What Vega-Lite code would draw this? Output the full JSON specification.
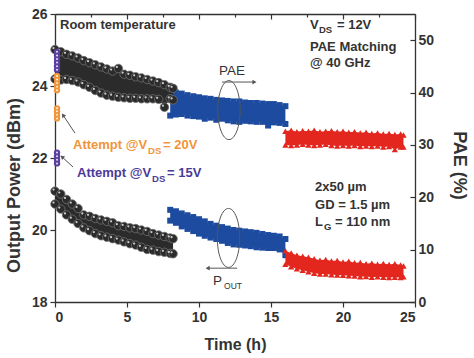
{
"$schema": "https://vega.github.io/schema/vega-lite/v6.json",
"width": 360,
"height": 288,
"autosize": "none",
"padding": {"left": 55, "top": 14, "right": 59, "bottom": 56},
"background": "white",
"config": {
  "view": {"stroke": null},
  "font": "Liberation Sans",
  "axis": {"grid": false, "domainColor": "#333333", "domainWidth": 1.3, "tickColor": "#333333", "tickWidth": 1.2, "labelFont": "Liberation Sans", "labelFontSize": 14, "labelFontWeight": "bold", "labelColor": "#333333", "titleFont": "Liberation Sans", "titleFontWeight": "bold", "titleColor": "#333333"}
},
"datasets": {
  "pae": [
    {"s":"bl","t":8.0,"v":35.6},{"s":"bl","t":8.0,"v":40.2},
    {"s":"bl","t":8.4,"v":35.8},{"s":"bl","t":8.4,"v":40.0},
    {"s":"bl","t":8.8,"v":35.9},{"s":"bl","t":8.8,"v":39.8},
    {"s":"bl","t":9.2,"v":35.6},{"s":"bl","t":9.2,"v":39.5},
    {"s":"bl","t":9.6,"v":35.5},{"s":"bl","t":9.6,"v":39.3},
    {"s":"bl","t":10.0,"v":35.4},{"s":"bl","t":10.0,"v":39.1},
    {"s":"bl","t":10.4,"v":35.0},{"s":"bl","t":10.4,"v":38.9},
    {"s":"bl","t":10.8,"v":35.2},{"s":"bl","t":10.8,"v":38.8},
    {"s":"bl","t":11.2,"v":34.8},{"s":"bl","t":11.2,"v":38.6},
    {"s":"bl","t":11.6,"v":35.0},{"s":"bl","t":11.6,"v":38.5},
    {"s":"bl","t":12.0,"v":34.7},{"s":"bl","t":12.0,"v":38.4},
    {"s":"bl","t":12.4,"v":34.5},{"s":"bl","t":12.4,"v":38.3},
    {"s":"bl","t":12.8,"v":34.4},{"s":"bl","t":12.8,"v":38.3},
    {"s":"bl","t":13.2,"v":34.6},{"s":"bl","t":13.2,"v":38.1},
    {"s":"bl","t":13.6,"v":34.5},{"s":"bl","t":13.6,"v":38.0},
    {"s":"bl","t":14.0,"v":34.4},{"s":"bl","t":14.0,"v":38.0},
    {"s":"bl","t":14.4,"v":34.4},{"s":"bl","t":14.4,"v":37.9},
    {"s":"bl","t":14.8,"v":33.7},{"s":"bl","t":14.8,"v":37.8},
    {"s":"bl","t":15.2,"v":34.3},{"s":"bl","t":15.2,"v":37.8},
    {"s":"bl","t":15.6,"v":34.2},{"s":"bl","t":15.6,"v":37.6},
    {"s":"bl","t":16.0,"v":34.0},{"s":"bl","t":16.0,"v":37.4},
    {"s":"rd","t":16.0,"v":30.0},{"s":"rd","t":16.0,"v":32.6},
    {"s":"rd","t":16.4,"v":29.9},{"s":"rd","t":16.4,"v":32.8},
    {"s":"rd","t":16.8,"v":30.0},{"s":"rd","t":16.8,"v":32.5},
    {"s":"rd","t":17.2,"v":30.1},{"s":"rd","t":17.2,"v":32.7},
    {"s":"rd","t":17.6,"v":30.0},{"s":"rd","t":17.6,"v":32.6},
    {"s":"rd","t":18.0,"v":29.9},{"s":"rd","t":18.0,"v":32.8},
    {"s":"rd","t":18.4,"v":30.0},{"s":"rd","t":18.4,"v":32.5},
    {"s":"rd","t":18.8,"v":30.1},{"s":"rd","t":18.8,"v":32.6},
    {"s":"rd","t":19.2,"v":29.9},{"s":"rd","t":19.2,"v":32.7},
    {"s":"rd","t":19.6,"v":29.8},{"s":"rd","t":19.6,"v":32.5},
    {"s":"rd","t":20.0,"v":29.9},{"s":"rd","t":20.0,"v":32.6},
    {"s":"rd","t":20.4,"v":29.8},{"s":"rd","t":20.4,"v":32.4},
    {"s":"rd","t":20.8,"v":29.9},{"s":"rd","t":20.8,"v":32.5},
    {"s":"rd","t":21.2,"v":29.7},{"s":"rd","t":21.2,"v":32.3},
    {"s":"rd","t":21.6,"v":29.8},{"s":"rd","t":21.6,"v":32.4},
    {"s":"rd","t":22.0,"v":29.7},{"s":"rd","t":22.0,"v":32.2},
    {"s":"rd","t":22.4,"v":29.8},{"s":"rd","t":22.4,"v":32.3},
    {"s":"rd","t":22.8,"v":29.6},{"s":"rd","t":22.8,"v":32.1},
    {"s":"rd","t":23.2,"v":29.7},{"s":"rd","t":23.2,"v":32.2},
    {"s":"rd","t":23.6,"v":29.1},{"s":"rd","t":23.6,"v":32.0},
    {"s":"rd","t":24.0,"v":29.6},{"s":"rd","t":24.0,"v":32.1},
    {"s":"rd","t":24.2,"v":29.6},{"s":"rd","t":24.2,"v":31.9},
    {"s":"bk","t":0.0,"v":42.6},{"s":"bk","t":0.0,"v":48.2},
    {"s":"bk","t":0.4,"v":42.4},{"s":"bk","t":0.4,"v":47.8},
    {"s":"bk","t":0.8,"v":42.5},{"s":"bk","t":0.8,"v":47.3},
    {"s":"bk","t":1.2,"v":42.3},{"s":"bk","t":1.2,"v":47.0},
    {"s":"bk","t":1.6,"v":42.0},{"s":"bk","t":1.6,"v":46.6},
    {"s":"bk","t":2.0,"v":41.5},{"s":"bk","t":2.0,"v":46.1},
    {"s":"bk","t":2.4,"v":41.0},{"s":"bk","t":2.4,"v":45.7},
    {"s":"bk","t":2.8,"v":40.4},{"s":"bk","t":2.8,"v":45.3},
    {"s":"bk","t":3.2,"v":39.9},{"s":"bk","t":3.2,"v":44.9},
    {"s":"bk","t":3.6,"v":39.5},{"s":"bk","t":3.6,"v":44.5},
    {"s":"bk","t":4.0,"v":39.3},{"s":"bk","t":4.0,"v":44.1},
    {"s":"bk","t":4.4,"v":39.1},{"s":"bk","t":4.4,"v":44.6},
    {"s":"bk","t":4.8,"v":39.0},{"s":"bk","t":4.8,"v":43.5},
    {"s":"bk","t":5.2,"v":38.9},{"s":"bk","t":5.2,"v":43.3},
    {"s":"bk","t":5.6,"v":38.9},{"s":"bk","t":5.6,"v":43.0},
    {"s":"bk","t":6.0,"v":38.8},{"s":"bk","t":6.0,"v":42.8},
    {"s":"bk","t":6.4,"v":38.8},{"s":"bk","t":6.4,"v":42.5},
    {"s":"bk","t":6.8,"v":38.8},{"s":"bk","t":6.8,"v":42.2},
    {"s":"bk","t":7.2,"v":38.7},{"s":"bk","t":7.2,"v":41.9},
    {"s":"bk","t":7.6,"v":37.2},{"s":"bk","t":7.6,"v":41.5},
    {"s":"bk","t":8.0,"v":38.8},{"s":"bk","t":8.0,"v":41.0},
    {"s":"bk","t":8.2,"v":38.6},{"s":"bk","t":8.2,"v":40.8}
  ],
  "pout": [
    {"s":"bl","t":8.0,"v":20.26},{"s":"bl","t":8.0,"v":20.56},
    {"s":"bl","t":8.4,"v":20.2},{"s":"bl","t":8.4,"v":20.52},
    {"s":"bl","t":8.8,"v":20.1},{"s":"bl","t":8.8,"v":20.46},
    {"s":"bl","t":9.2,"v":20.03},{"s":"bl","t":9.2,"v":20.41},
    {"s":"bl","t":9.6,"v":19.97},{"s":"bl","t":9.6,"v":20.36},
    {"s":"bl","t":10.0,"v":19.9},{"s":"bl","t":10.0,"v":20.3},
    {"s":"bl","t":10.4,"v":19.84},{"s":"bl","t":10.4,"v":20.24},
    {"s":"bl","t":10.8,"v":19.79},{"s":"bl","t":10.8,"v":20.17},
    {"s":"bl","t":11.2,"v":19.75},{"s":"bl","t":11.2,"v":20.12},
    {"s":"bl","t":11.6,"v":19.7},{"s":"bl","t":11.6,"v":20.08},
    {"s":"bl","t":12.0,"v":19.64},{"s":"bl","t":12.0,"v":20.04},
    {"s":"bl","t":12.4,"v":19.6},{"s":"bl","t":12.4,"v":20.0},
    {"s":"bl","t":12.8,"v":19.59},{"s":"bl","t":12.8,"v":19.98},
    {"s":"bl","t":13.2,"v":19.57},{"s":"bl","t":13.2,"v":19.96},
    {"s":"bl","t":13.6,"v":19.55},{"s":"bl","t":13.6,"v":19.94},
    {"s":"bl","t":14.0,"v":19.52},{"s":"bl","t":14.0,"v":19.92},
    {"s":"bl","t":14.4,"v":19.51},{"s":"bl","t":14.4,"v":19.89},
    {"s":"bl","t":14.8,"v":19.5},{"s":"bl","t":14.8,"v":19.86},
    {"s":"bl","t":15.2,"v":19.5},{"s":"bl","t":15.2,"v":19.84},
    {"s":"bl","t":15.6,"v":19.46},{"s":"bl","t":15.6,"v":19.82},
    {"s":"bl","t":16.0,"v":19.3},{"s":"bl","t":16.0,"v":19.75},
    {"s":"rd","t":16.0,"v":19.05},{"s":"rd","t":16.0,"v":19.42},
    {"s":"rd","t":16.4,"v":18.98},{"s":"rd","t":16.4,"v":19.36},
    {"s":"rd","t":16.8,"v":18.92},{"s":"rd","t":16.8,"v":19.3},
    {"s":"rd","t":17.2,"v":18.88},{"s":"rd","t":17.2,"v":19.27},
    {"s":"rd","t":17.6,"v":18.84},{"s":"rd","t":17.6,"v":19.24},
    {"s":"rd","t":18.0,"v":18.8},{"s":"rd","t":18.0,"v":19.2},
    {"s":"rd","t":18.4,"v":18.78},{"s":"rd","t":18.4,"v":19.16},
    {"s":"rd","t":18.8,"v":18.78},{"s":"rd","t":18.8,"v":19.18},
    {"s":"rd","t":19.2,"v":18.76},{"s":"rd","t":19.2,"v":19.14},
    {"s":"rd","t":19.6,"v":18.75},{"s":"rd","t":19.6,"v":19.15},
    {"s":"rd","t":20.0,"v":18.74},{"s":"rd","t":20.0,"v":19.11},
    {"s":"rd","t":20.4,"v":18.73},{"s":"rd","t":20.4,"v":19.13},
    {"s":"rd","t":20.8,"v":18.72},{"s":"rd","t":20.8,"v":19.09},
    {"s":"rd","t":21.2,"v":18.7},{"s":"rd","t":21.2,"v":19.1},
    {"s":"rd","t":21.6,"v":18.71},{"s":"rd","t":21.6,"v":19.06},
    {"s":"rd","t":22.0,"v":18.69},{"s":"rd","t":22.0,"v":19.08},
    {"s":"rd","t":22.4,"v":18.7},{"s":"rd","t":22.4,"v":19.05},
    {"s":"rd","t":22.8,"v":18.69},{"s":"rd","t":22.8,"v":19.07},
    {"s":"rd","t":23.2,"v":18.68},{"s":"rd","t":23.2,"v":19.04},
    {"s":"rd","t":23.6,"v":18.69},{"s":"rd","t":23.6,"v":19.06},
    {"s":"rd","t":24.0,"v":18.68},{"s":"rd","t":24.0,"v":19.03},
    {"s":"rd","t":24.2,"v":18.7},{"s":"rd","t":24.2,"v":19.0},
    {"s":"bk","t":0.0,"v":20.72},{"s":"bk","t":0.0,"v":21.08},
    {"s":"bk","t":0.4,"v":20.58},{"s":"bk","t":0.4,"v":21.0},
    {"s":"bk","t":0.8,"v":20.42},{"s":"bk","t":0.8,"v":20.85},
    {"s":"bk","t":1.2,"v":20.3},{"s":"bk","t":1.2,"v":20.72},
    {"s":"bk","t":1.6,"v":20.18},{"s":"bk","t":1.6,"v":20.6},
    {"s":"bk","t":2.0,"v":20.06},{"s":"bk","t":2.0,"v":20.42},
    {"s":"bk","t":2.4,"v":19.98},{"s":"bk","t":2.4,"v":20.38},
    {"s":"bk","t":2.8,"v":19.9},{"s":"bk","t":2.8,"v":20.32},
    {"s":"bk","t":3.2,"v":19.84},{"s":"bk","t":3.2,"v":20.28},
    {"s":"bk","t":3.6,"v":19.8},{"s":"bk","t":3.6,"v":20.24},
    {"s":"bk","t":4.0,"v":19.76},{"s":"bk","t":4.0,"v":20.2},
    {"s":"bk","t":4.4,"v":19.72},{"s":"bk","t":4.4,"v":20.12},
    {"s":"bk","t":4.8,"v":19.67},{"s":"bk","t":4.8,"v":20.1},
    {"s":"bk","t":5.2,"v":19.62},{"s":"bk","t":5.2,"v":20.06},
    {"s":"bk","t":5.6,"v":19.58},{"s":"bk","t":5.6,"v":20.04},
    {"s":"bk","t":6.0,"v":19.52},{"s":"bk","t":6.0,"v":20.0},
    {"s":"bk","t":6.4,"v":19.46},{"s":"bk","t":6.4,"v":19.96},
    {"s":"bk","t":6.8,"v":19.44},{"s":"bk","t":6.8,"v":19.9},
    {"s":"bk","t":7.2,"v":19.4},{"s":"bk","t":7.2,"v":19.86},
    {"s":"bk","t":7.6,"v":19.38},{"s":"bk","t":7.6,"v":19.82},
    {"s":"bk","t":8.0,"v":19.35},{"s":"bk","t":8.0,"v":19.78},
    {"s":"bk","t":8.2,"v":19.34},{"s":"bk","t":8.2,"v":19.76}
  ],
  "att": [
    {"g":"orange","t":0.14,"v":23.1},{"g":"orange","t":0.14,"v":23.2},{"g":"orange","t":0.14,"v":23.3},{"g":"orange","t":0.14,"v":23.38},
    {"g":"orange","t":0.14,"v":23.88},{"g":"orange","t":0.14,"v":23.98},{"g":"orange","t":0.14,"v":24.08},{"g":"orange","t":0.14,"v":24.18},{"g":"orange","t":0.14,"v":24.28},
    {"g":"purple","t":0.14,"v":24.45},{"g":"purple","t":0.14,"v":24.55},{"g":"purple","t":0.14,"v":24.65},{"g":"purple","t":0.14,"v":24.75},{"g":"purple","t":0.14,"v":24.85},{"g":"purple","t":0.14,"v":24.95},
    {"g":"purple","t":0.14,"v":21.85},{"g":"purple","t":0.14,"v":21.95},{"g":"purple","t":0.14,"v":22.05},{"g":"purple","t":0.14,"v":22.15}
  ],
  "arr": [
    {"t1":11.6,"v1":24.11,"t2":13.85,"v2":24.11,"a":90},
    {"t1":12.65,"v1":18.94,"t2":10.6,"v2":18.94,"a":-90},
    {"t1":1.39,"v1":22.69,"t2":0.56,"v2":23.19,"a":-34},
    {"t1":1.25,"v1":21.75,"t2":0.49,"v2":22.03,"a":-48}
  ],
  "ell": [
    {"t":12.08,"v":23.33},
    {"t":12.05,"v":19.78}
  ],
  "ann": [
    {"g":"note","r":"m","t":0.35,"v":25.69,"txt":"Room temperature"},
    {"g":"note","r":"m","t":17.71,"v":25.69,"txt":"V"},
    {"g":"note","r":"s","t":18.33,"v":25.55,"txt":"DS"},
    {"g":"note","r":"m","t":19.58,"v":25.69,"txt":"= 12V"},
    {"g":"note","r":"m","t":17.71,"v":25.08,"txt":"PAE Matching"},
    {"g":"note","r":"m","t":17.71,"v":24.64,"txt":"@ 40 GHz"},
    {"g":"note","r":"m","t":18.06,"v":21.19,"txt":"2x50 µm"},
    {"g":"note","r":"m","t":18.06,"v":20.69,"txt":"GD = 1.5 µm"},
    {"g":"note","r":"m","t":18.06,"v":20.22,"txt":"L"},
    {"g":"note","r":"s","t":18.68,"v":20.08,"txt":"G"},
    {"g":"note","r":"m","t":19.44,"v":20.22,"txt":"= 110 nm"},
    {"g":"orange","r":"m","t":1.25,"v":22.36,"txt":"Attempt @V"},
    {"g":"orange","r":"s","t":6.46,"v":22.19,"txt":"DS"},
    {"g":"orange","r":"m","t":7.5,"v":22.36,"txt":"= 20V"},
    {"g":"purple","r":"m","t":1.53,"v":21.58,"txt":"Attempt @V"},
    {"g":"purple","r":"s","t":6.74,"v":21.42,"txt":"DS"},
    {"g":"purple","r":"m","t":7.78,"v":21.58,"txt":"= 15V"},
    {"g":"arrow","r":"m","t":11.39,"v":24.42,"txt":"PAE"},
    {"g":"arrow","r":"m","t":10.97,"v":18.58,"txt":"P"},
    {"g":"arrow","r":"s","t":11.74,"v":18.44,"txt":"OUT"}
  ],
  "one": [{"t":0}]
},
"layer": [
  {
    "data": {"name": "pae"},
    "layer": [
      {"transform":[{"filter":"datum.s === 'bl'"}],"mark":{"type":"area","color":"#1d4b9f"},
       "encoding":{"x":{"field":"t","type":"quantitative","scale":{"domain":[0,25],"nice":false,"zero":false},"axis":null},
                   "y":{"aggregate":"min","field":"v","type":"quantitative","scale":{"domain":[0,55],"nice":false,"zero":false},
                        "axis":{"orient":"right","values":[0,5,10,15,20,25,30,35,40,45,50],"labelExpr":"datum.value % 10 === 0 ? format(datum.value,'d') : ''","tickSize":{"condition":{"test":"datum.value % 10 !== 0","value":-3},"value":-5},"labelPadding":8,"title":"PAE (%)","titleFontSize":18,"titleAngle":90,"titleBaseline":"middle","titleX":43,"titleY":151}},
                   "y2":{"aggregate":"max","field":"v"}}},
      {"transform":[{"filter":"datum.s === 'bl'"}],"mark":{"type":"point","shape":"square","filled":true,"size":36,"color":"#1d4b9f","opacity":1},
       "encoding":{"x":{"field":"t","type":"quantitative","axis":null},"y":{"field":"v","type":"quantitative"}}},
      {"transform":[{"filter":"datum.s === 'rd'"}],"mark":{"type":"area","color":"#e3271f"},
       "encoding":{"x":{"field":"t","type":"quantitative","axis":null},"y":{"aggregate":"min","field":"v","type":"quantitative"},"y2":{"aggregate":"max","field":"v"}}},
      {"transform":[{"filter":"datum.s === 'rd'"}],"mark":{"type":"point","shape":"triangle-up","filled":true,"size":40,"color":"#e3271f","opacity":1},
       "encoding":{"x":{"field":"t","type":"quantitative","axis":null},"y":{"field":"v","type":"quantitative"}}},
      {"transform":[{"filter":"datum.s === 'bk'"}],"mark":{"type":"area","color":"#2b2b2b"},
       "encoding":{"x":{"field":"t","type":"quantitative","axis":null},"y":{"aggregate":"min","field":"v","type":"quantitative"},"y2":{"aggregate":"max","field":"v"}}},
      {"transform":[{"filter":"datum.s === 'bk'"}],"mark":{"type":"point","shape":"circle","filled":true,"size":72,"fill":"#2b2b2b","stroke":"#707070","strokeWidth":0.8,"opacity":1},
       "encoding":{"x":{"field":"t","type":"quantitative","axis":null},"y":{"field":"v","type":"quantitative"}}},
      {"transform":[{"filter":"datum.s === 'bk'"}],"mark":{"type":"point","shape":"circle","filled":true,"size":5,"color":"#dddddd","opacity":0.9,"xOffset":-1.5,"yOffset":-1.5},
       "encoding":{"x":{"field":"t","type":"quantitative","axis":null},"y":{"field":"v","type":"quantitative"}}}
    ]
  },
  {
    "data": {"name": "pout"},
    "resolve": {"scale": {"color": "independent"}},
    "layer": [
      {"transform":[{"filter":"datum.s === 'bl'"}],"mark":{"type":"area","color":"#1d4b9f"},
       "encoding":{"x":{"field":"t","type":"quantitative","scale":{"domain":[0,25],"nice":false,"zero":false},
                        "axis":{"orient":"bottom","values":[0,2.5,5,7.5,10,12.5,15,17.5,20,22.5,25],"labelExpr":"datum.value % 5 === 0 ? format(datum.value,'d') : ''","tickSize":{"condition":{"test":"datum.value % 5 !== 0","value":3},"value":5},"labelPadding":3,"title":"Time (h)","titleFontSize":16,"titlePadding":12}},
                   "y":{"aggregate":"min","field":"v","type":"quantitative","scale":{"domain":[18,26],"nice":false,"zero":false},
                        "axis":{"orient":"left","values":[18,19,20,21,22,23,24,25,26],"labelExpr":"datum.value % 2 === 0 ? format(datum.value,'d') : ''","tickSize":{"condition":{"test":"datum.value % 2 !== 0","value":3},"value":5},"labelPadding":3,"title":"Output Power (dBm)","titleFontSize":18,"titleAngle":-90,"titleBaseline":"middle","titleX":-41,"titleY":171}},
                   "y2":{"aggregate":"max","field":"v"}}},
      {"transform":[{"filter":"datum.s === 'bl'"}],"mark":{"type":"point","shape":"square","filled":true,"size":36,"color":"#1d4b9f","opacity":1},
       "encoding":{"x":{"field":"t","type":"quantitative"},"y":{"field":"v","type":"quantitative"}}},
      {"transform":[{"filter":"datum.s === 'rd'"}],"mark":{"type":"area","color":"#e3271f"},
       "encoding":{"x":{"field":"t","type":"quantitative"},"y":{"aggregate":"min","field":"v","type":"quantitative"},"y2":{"aggregate":"max","field":"v"}}},
      {"transform":[{"filter":"datum.s === 'rd'"}],"mark":{"type":"point","shape":"triangle-up","filled":true,"size":40,"color":"#e3271f","opacity":1},
       "encoding":{"x":{"field":"t","type":"quantitative"},"y":{"field":"v","type":"quantitative"}}},
      {"transform":[{"filter":"datum.s === 'bk'"}],"mark":{"type":"area","color":"#2b2b2b"},
       "encoding":{"x":{"field":"t","type":"quantitative"},"y":{"aggregate":"min","field":"v","type":"quantitative"},"y2":{"aggregate":"max","field":"v"}}},
      {"transform":[{"filter":"datum.s === 'bk'"}],"mark":{"type":"point","shape":"circle","filled":true,"size":72,"fill":"#2b2b2b","stroke":"#707070","strokeWidth":0.8,"opacity":1},
       "encoding":{"x":{"field":"t","type":"quantitative"},"y":{"field":"v","type":"quantitative"}}},
      {"transform":[{"filter":"datum.s === 'bk'"}],"mark":{"type":"point","shape":"circle","filled":true,"size":5,"color":"#dddddd","opacity":0.9,"xOffset":-1.5,"yOffset":-1.5},
       "encoding":{"x":{"field":"t","type":"quantitative"},"y":{"field":"v","type":"quantitative"}}},
      {"data":{"name":"att"},"mark":{"type":"point","shape":"circle","filled":true,"size":40,"opacity":1},
       "encoding":{"x":{"field":"t","type":"quantitative"},"y":{"field":"v","type":"quantitative"},
                   "color":{"field":"g","type":"nominal","scale":{"domain":["orange","purple"],"range":["#f0953a","#5a3fa0"]},"legend":null}}},
      {"data":{"name":"att"},"mark":{"type":"point","shape":"circle","filled":true,"size":4,"color":"#ffffff","opacity":0.85},
       "encoding":{"x":{"field":"t","type":"quantitative"},"y":{"field":"v","type":"quantitative"}}},
      {"data":{"name":"arr"},"mark":{"type":"rule","color":"#555555","strokeWidth":1},
       "encoding":{"x":{"field":"t1","type":"quantitative"},"x2":{"field":"t2"},"y":{"field":"v1","type":"quantitative"},"y2":{"field":"v2"}}},
      {"data":{"name":"arr"},"mark":{"type":"point","shape":"triangle-up","filled":true,"size":22,"color":"#555555","opacity":1},
       "encoding":{"x":{"field":"t2","type":"quantitative"},"y":{"field":"v2","type":"quantitative"},"angle":{"field":"a","type":"quantitative","scale":null}}},
      {"data":{"name":"ell"},"mark":{"type":"point","shape":"M0,-1C0.21,-1,0.38,-0.552,0.38,0C0.38,0.552,0.21,1,0,1C-0.21,1,-0.38,0.552,-0.38,0C-0.38,-0.552,-0.21,-1,0,-1Z","filled":false,"size":3480,"stroke":"#555555","strokeWidth":1,"opacity":1},
       "encoding":{"x":{"field":"t","type":"quantitative"},"y":{"field":"v","type":"quantitative"}}},
      {"data":{"name":"ann"},"transform":[{"filter":"datum.g !== 'arrow' && datum.r === 'm'"}],
       "mark":{"type":"text","align":"left","baseline":"middle","fontWeight":"bold","fontSize":13,"font":"Liberation Sans"},
       "encoding":{"x":{"field":"t","type":"quantitative"},"y":{"field":"v","type":"quantitative"},"text":{"field":"txt"},
                   "color":{"field":"g","type":"nominal","scale":{"domain":["note","orange","purple"],"range":["#333333","#f0953a","#4b3b98"]},"legend":null}}},
      {"data":{"name":"ann"},"transform":[{"filter":"datum.g !== 'arrow' && datum.r === 's'"}],
       "mark":{"type":"text","align":"left","baseline":"middle","fontWeight":"bold","fontSize":9.5,"font":"Liberation Sans"},
       "encoding":{"x":{"field":"t","type":"quantitative"},"y":{"field":"v","type":"quantitative"},"text":{"field":"txt"},
                   "color":{"field":"g","type":"nominal","scale":{"domain":["note","orange","purple"],"range":["#333333","#f0953a","#4b3b98"]},"legend":null}}},
      {"data":{"name":"ann"},"transform":[{"filter":"datum.g === 'arrow' && datum.r === 'm'"}],
       "mark":{"type":"text","align":"left","baseline":"middle","fontSize":13.5,"color":"#333333","font":"Liberation Sans"},
       "encoding":{"x":{"field":"t","type":"quantitative"},"y":{"field":"v","type":"quantitative"},"text":{"field":"txt"}}},
      {"data":{"name":"ann"},"transform":[{"filter":"datum.g === 'arrow' && datum.r === 's'"}],
       "mark":{"type":"text","align":"left","baseline":"middle","fontSize":8.5,"color":"#333333","font":"Liberation Sans"},
       "encoding":{"x":{"field":"t","type":"quantitative"},"y":{"field":"v","type":"quantitative"},"text":{"field":"txt"}}}
    ]
  },
  {
    "data": {"name": "one"},
    "mark": {"type": "rule", "opacity": 0},
    "encoding": {"x": {"field": "t", "type": "quantitative", "scale": {"domain": [0,25], "nice": false, "zero": false},
                       "axis": {"orient": "top", "values": [0,2.5,5,7.5,10,12.5,15,17.5,20,22.5,25], "labels": false, "title": null, "tickSize": {"condition": {"test": "datum.value % 5 !== 0", "value": -3}, "value": -5}}}}
  }
],
"resolve": {"scale": {"y": "independent"}, "axis": {"x": "independent", "y": "independent"}}
}
